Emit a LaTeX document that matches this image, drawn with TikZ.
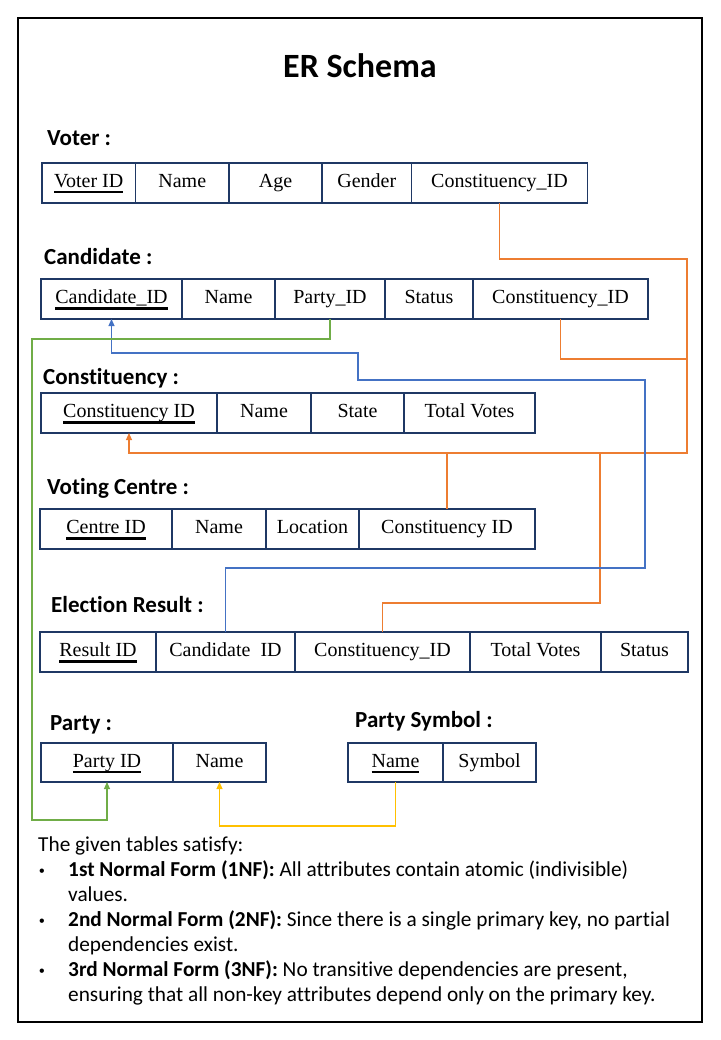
\documentclass[tikz,border=0pt]{standalone}
\usepackage{fontspec}
\setmainfont{Liberation Serif}
\newfontfamily\calibri[Ligatures=NoCommon]{Carlito}
\newfontfamily\bulletfont{Liberation Sans}
\usepackage{xcolor}
\usetikzlibrary{arrows.meta, positioning}

\definecolor{cellblue}{HTML}{1F3864}
\definecolor{fkorange}{HTML}{ED7D31}
\definecolor{fkblue}{HTML}{4472C4}
\definecolor{fkgreen}{HTML}{70AD47}
\definecolor{fkyellow}{HTML}{FFC000}

\newcommand{\keyattr}[1]{\setbox0\hbox{#1}\rlap{\rule[-6pt]{\wd0}{2.3pt}}\box0}

\tikzset{
  cell/.style={draw=cellblue, line width=1.2pt, minimum height=40pt, inner sep=0pt, outer sep=0pt,
    text height=13.5pt, text depth=4.5pt, font=\fontsize{20}{24}\selectfont},
  tabhead/.style={anchor=base west, inner sep=0pt, font=\calibri\bfseries\fontsize{23}{27}\selectfont},
  bodytext/.style={anchor=north west, inner sep=0pt, align=left, font=\calibri\fontsize{21.3}{25}\selectfont},
  fk/.style={line width=1.1pt, draw=#1},
  fkarrow/.style={fk=#1, -{Triangle[length=7pt,width=6pt]}},
}

\begin{document}
\begin{tikzpicture}[x=1pt,y=-1pt]
\useasboundingbox (0,0) rectangle (720,1040);
\draw[line width=2pt] (18,18) rectangle (702,1022);

\node[anchor=base, inner sep=0pt, font=\calibri\bfseries\fontsize{34}{40}\selectfont] (title) at (360,78) {ER Schema};

\node[tabhead] (hvoter) at (47,146) {Voter :};
\node[cell, minimum width=93.5pt, anchor=north west] (v1) at (42,163) {\keyattr{Voter ID}};
\node[cell, minimum width=93.5pt, right=0pt of v1] (v2) {Name};
\node[cell, minimum width=93pt, right=0pt of v2] (v3) {Age};
\node[cell, minimum width=89.5pt, right=0pt of v3] (v4) {Gender};
\node[cell, minimum width=176pt, right=0pt of v4] (v5) {Constituency\_ID};

\node[tabhead] (hcand) at (44,265) {Candidate :};
\node[cell, minimum width=141pt, anchor=north west] (c1) at (41,279) {\keyattr{Candidate\_ID}};
\node[cell, minimum width=93pt, right=0pt of c1] (c2) {Name};
\node[cell, minimum width=110pt, right=0pt of c2] (c3) {Party\_ID};
\node[cell, minimum width=88pt, right=0pt of c3] (c4) {Status};
\node[cell, minimum width=175pt, right=0pt of c4] (c5) {Constituency\_ID};

\node[tabhead] (hconst) at (43,384) {Constituency :};
\node[cell, minimum width=176pt, anchor=north west] (n1) at (41,393) {\keyattr{Constituency ID}};
\node[cell, minimum width=94pt, right=0pt of n1] (n2) {Name};
\node[cell, minimum width=93pt, right=0pt of n2] (n3) {State};
\node[cell, minimum width=131pt, right=0pt of n3] (n4) {Total Votes};

\node[tabhead] (hcentre) at (47,494) {Voting Centre :};
\node[cell, minimum width=132pt, anchor=north west] (vc1) at (40,509) {\keyattr{Centre ID}};
\node[cell, minimum width=94pt, right=0pt of vc1] (vc2) {Name};
\node[cell, minimum width=93pt, right=0pt of vc2] (vc3) {Location};
\node[cell, minimum width=176pt, right=0pt of vc3] (vc4) {Constituency ID};

\node[tabhead] (hresult) at (51,612) {Election Result :};
\node[cell, minimum width=116pt, anchor=north west] (e1) at (40,632) {\keyattr{Result ID}};
\node[cell, minimum width=139pt, right=0pt of e1] (e2) {Candidate~~ID};
\node[cell, minimum width=175pt, right=0pt of e2] (e3) {Constituency\_ID};
\node[cell, minimum width=131pt, right=0pt of e3] (e4) {Total Votes};
\node[cell, minimum width=87pt, right=0pt of e4] (e5) {Status};

\node[tabhead] (hparty) at (50,730) {Party :};
\node[cell, minimum width=132pt, minimum height=39pt, anchor=north west] (p1) at (41,743) {\keyattr{Party ID}};
\node[cell, minimum width=93pt, minimum height=39pt, right=0pt of p1] (p2) {Name};

\node[tabhead] (hsymbol) at (355,727) {Party Symbol :};
\node[cell, minimum width=95pt, minimum height=39pt, anchor=north west] (ps1) at (348,743) {\keyattr{Name}};
\node[cell, minimum width=93pt, minimum height=39pt, right=0pt of ps1] (ps2) {Symbol};

\draw[fkarrow=fkorange] (v5.south) |- (687,259) -- (687,453) -| (n1.south);
\draw[fk=fkorange] (c5.south) |- (687,359);
\draw[fk=fkorange] (vc4.north) -- ++(0,-56);
\draw[fk=fkorange] (e3.north) |- (600,603) -- (600,453);
\draw[fkarrow=fkblue] (e2.north) |- (645,568) |- (358,380) -- (358,353) -| (c1.south);
\draw[fkarrow=fkgreen] (c3.south) |- (32,339) -- (32,820) -| (p1.south);
\draw[fkarrow=fkyellow] (ps1.south) -- ++(0,44) -| (p2.south);

\node[bodytext] (intro) at (38,833.5) {\strut The given tables satisfy:};
\node[bodytext] (dot1) at (39,858.5) {\strut{\bulletfont\fontsize{16}{25}\selectfont\textbullet}};
\node[bodytext] (nf1) at (68,858.5) {\strut\textbf{1st Normal Form (1NF):} All attributes contain atomic (indivisible)\\values.};
\node[bodytext] (dot2) at (39,908.5) {\strut{\bulletfont\fontsize{16}{25}\selectfont\textbullet}};
\node[bodytext] (nf2) at (68,908.5) {\strut\textbf{2nd Normal Form (2NF):} Since there is a single primary key, no partial\\dependencies exist.};
\node[bodytext] (dot3) at (39,958.5) {\strut{\bulletfont\fontsize{16}{25}\selectfont\textbullet}};
\node[bodytext] (nf3) at (68,958.5) {\strut\textbf{3rd Normal Form (3NF):} No transitive dependencies are present,\\ensuring that all non-key attributes depend only on the primary key.};
\end{tikzpicture}
\end{document}
